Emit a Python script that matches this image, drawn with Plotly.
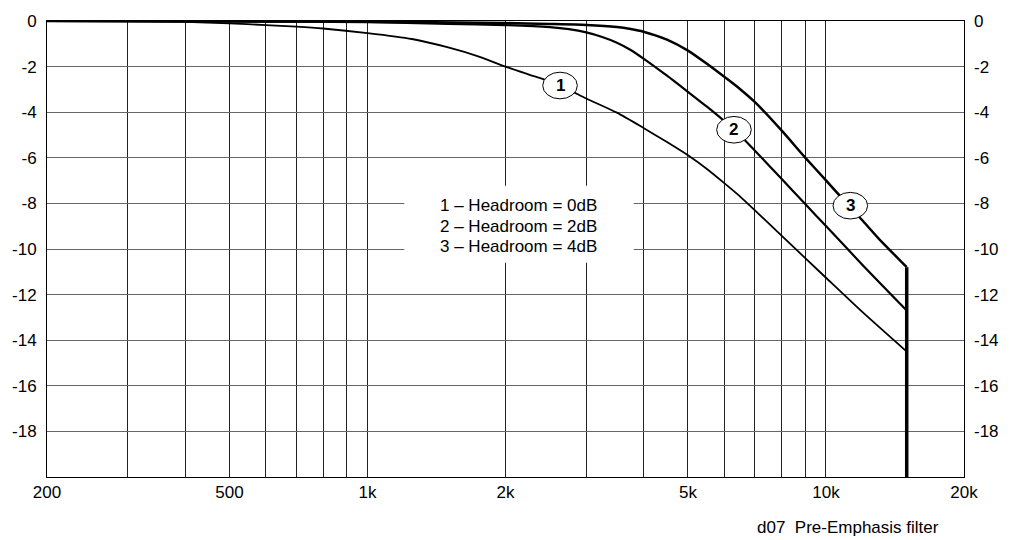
import numpy as np
import plotly.graph_objects as go

# ---- data ----
freq_1 = [200, 300, 400, 500, 600, 700, 800, 1000, 1250, 1500, 1750, 2000, 2250, 2500,
          2750, 3000, 3500, 4000, 4500, 5000, 5500, 6000, 6500, 7000, 8000, 9000,
          10000, 12000, 15000]
db_1 = [0, -0.02, -0.04, -0.1, -0.18, -0.25, -0.33, -0.53, -0.79, -1.16, -1.56, -2.0,
        -2.35, -2.66, -3.02, -3.40, -4.02, -4.69, -5.31, -5.89, -6.49, -7.11, -7.70,
        -8.31, -9.41, -10.39, -11.26, -12.76, -14.5]

freq_2 = [200, 500, 1000, 1500, 2000, 2500, 2750, 3000, 3250, 3500, 3750, 4000, 4500,
          5000, 5500, 6000, 6500, 7000, 8000, 9000, 10000, 12000, 15000]
db_2 = [0, -0.02, -0.05, -0.13, -0.18, -0.27, -0.36, -0.5, -0.7, -0.95, -1.27, -1.65,
        -2.4, -3.11, -3.76, -4.39, -5.02, -5.69, -6.92, -8.02, -8.99, -10.69, -12.7]

freq_3 = [200, 1000, 2000, 2500, 3000, 3500, 3750, 4000, 4500, 5000, 5500, 6000, 6500,
          7000, 8000, 9000, 10000, 11000, 12000, 13000, 15000]
db_3 = [0, -0.03, -0.09, -0.13, -0.17, -0.26, -0.35, -0.47, -0.82, -1.3, -1.88, -2.45,
        -2.99, -3.56, -4.80, -5.98, -6.99, -7.91, -8.74, -9.52, -10.8]

cutoff_freq = 15000
floor_db = -20

label_text = ["1", "2", "3"]
label_freq = [2630, 6300, 11300]
label_db = [-2.83, -4.77, -8.1]

legend_lines = ["1 \u2013 Headroom = 0dB", "2 \u2013 Headroom = 2dB", "3 \u2013 Headroom = 4dB"]

x_tickvals = [200, 300, 400, 500, 600, 700, 800, 900, 1000, 2000, 3000, 4000, 5000,
              6000, 7000, 8000, 9000, 10000, 20000]
x_ticktext = ["200", "", "", "500", "", "", "", "", "1k", "2k", "", "", "5k", "", "", "",
              "", "10k", "20k"]
y_tickvals = [0, -2, -4, -6, -8, -10, -12, -14, -16, -18]
y_ticktext = ["0", "-2", "-4", "-6", "-8", "-10", "-12", "-14", "-16", "-18"]

caption = "d07  Pre-Emphasis filter"

FONT = "Liberation Sans, Arial, sans-serif"

# ---- layout geometry (pixels) ----
W, H = 1011, 540
ML, MR, MT, MB = 45, 39, 15, 63
PW, PH = W - ML - MR, H - MT - MB
X_LOG = [np.log10(200), np.log10(20000)]
Y_RANGE = [-20, 0]
px_per_dec = PW / (X_LOG[1] - X_LOG[0])
px_per_db = PH / (Y_RANGE[1] - Y_RANGE[0])
ELL_W, ELL_H = 35, 27

fig = go.Figure()
for fx, fy, w in [(freq_1, db_1, 1.8), (freq_2, db_2, 2.2), (freq_3, db_3, 2.5)]:
    fig.add_trace(go.Scatter(x=fx, y=fy, mode="lines",
                             line=dict(color="black", width=w, shape="spline",
                                       smoothing=0.6),
                             showlegend=False, hoverinfo="skip"))
# cutoff drop at 15 kHz
fig.add_trace(go.Scatter(x=[cutoff_freq, cutoff_freq], y=[db_3[-1], floor_db], mode="lines",
                         line=dict(color="black", width=3.5), showlegend=False,
                         hoverinfo="skip"))
# invisible trace to activate the right axis
fig.add_trace(go.Scatter(x=freq_1, y=db_1, yaxis="y2", mode="lines", opacity=0,
                         showlegend=False, hoverinfo="skip"))

shapes = []
# white box behind the legend text
shapes.append(dict(type="rect", xref="paper", yref="paper", x0=0.3896, x1=0.6399,
                   y0=0.470, y1=0.6388, fillcolor="white", line=dict(width=0),
                   layer="above"))
annotations = []
kx = 10 ** ((ELL_W / 2) / px_per_dec)
dy = (ELL_H / 2) / px_per_db
for t, f, d in zip(label_text, label_freq, label_db):
    shapes.append(dict(type="circle", xref="x", yref="y", x0=f / kx, x1=f * kx,
                       y0=d - dy, y1=d + dy, fillcolor="white",
                       line=dict(color="black", width=1), layer="above"))
    annotations.append(dict(x=np.log10(f), y=d, xref="x", yref="y", text="<b>%s</b>" % t,
                            showarrow=False, font=dict(family=FONT, size=17, color="black"),
                            xanchor="center", yanchor="middle"))

legend_y = [0.5947, 0.5493, 0.5060]
for line, yy in zip(legend_lines, legend_y):
    annotations.append(dict(x=0.5147, y=yy, xref="paper", yref="paper", text=line,
                            showarrow=False, font=dict(family=FONT, size=17, color="black"),
                            xanchor="center", yanchor="middle"))

annotations.append(dict(x=0.9744, y=-0.1097, xref="paper", yref="paper", text=caption,
                        showarrow=False, font=dict(family=FONT, size=17, color="black"),
                        xanchor="right", yanchor="middle"))

fig.update_layout(
    width=W, height=H, autosize=False,
    margin=dict(l=ML, r=MR, t=MT, b=MB),
    paper_bgcolor="white", plot_bgcolor="white",
    font=dict(family=FONT, size=17, color="black"),
    shapes=shapes, annotations=annotations,
    xaxis=dict(type="log", range=X_LOG,
               tickvals=x_tickvals, ticktext=x_ticktext, ticks="",
               showgrid=True, gridcolor="#222222", gridwidth=1,
               showline=True, linecolor="black", linewidth=1, mirror=True,
               zeroline=False, ticklabelstandoff=0),
    yaxis=dict(range=Y_RANGE, tickvals=y_tickvals, ticktext=y_ticktext, ticks="",
               showgrid=True, gridcolor="#666666", gridwidth=1,
               showline=True, linecolor="black", linewidth=1, mirror=True,
               zeroline=False, ticklabelstandoff=6),
    yaxis2=dict(range=Y_RANGE, tickvals=y_tickvals, ticktext=y_ticktext, ticks="",
                overlaying="y", side="right", showgrid=False, showline=False,
                zeroline=False, ticklabelstandoff=9),
)

fig.write_html("out.html", config={"displayModeBar": False},
               post_script="document.body.style.margin='0px';"
                           "document.body.style.overflow='hidden';")
